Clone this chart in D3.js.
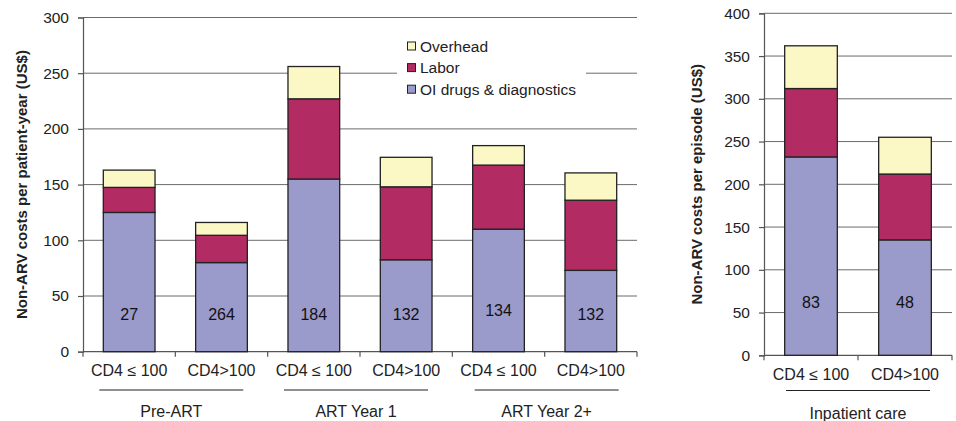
<!DOCTYPE html>
<html>
<head>
<meta charset="utf-8">
<script src="https://cdn.jsdelivr.net/npm/d3@7"></script>
<style>
  html, body { margin: 0; padding: 0; background: #fff; }
  svg { display: block; font-family: "Liberation Sans", Arial, sans-serif; }
</style>
</head>
<body>
<svg id="chart" width="956" height="421"></svg>
<script>
// Cost components (US$), stacked bottom to top
const seriesNames = ["OI drugs & diagnostics", "Labor", "Overhead"];
const seriesColors = ["#9a9acb", "#b22b63", "#fbf8c6"];

// Outpatient panel: cost per patient-year
const outCategories = ["CD4 ≤ 100", "CD4>100", "CD4 ≤ 100", "CD4>100", "CD4 ≤ 100", "CD4>100"];
const outGroups = ["Pre-ART", "ART Year 1", "ART Year 2+"];
const outOI       = [125, 80, 155, 82.5, 110, 73];
const outLabor    = [22.5, 24.5, 72, 65.5, 57.5, 63];
const outOverhead = [15.5, 11.5, 29, 26.5, 17.5, 24.5];
const outN        = ["27", "264", "184", "132", "134", "132"];
const outTicks    = [0, 50, 100, 150, 200, 250, 300];

// Inpatient panel: cost per episode
const inCategories = ["CD4 ≤ 100", "CD4>100"];
const inGroups = ["Inpatient care"];
const inOI       = [232, 135];
const inLabor    = [80, 77];
const inOverhead = [50, 43];
const inN        = ["83", "48"];
const inTicks    = [0, 50, 100, 150, 200, 250, 300, 350, 400];

const svg = d3.select("#chart");

function panel(opts) {
  const { x0, x1, y0, y1, yMax, ticks, categories, groups, oi, labor, overhead, nLabels, nLabelValue, yTitle, yTitleX } = opts;
  const g = svg.append("g");
  const idx = d3.range(categories.length);
  const x = d3.scaleBand().domain(idx).range([x0, x1]).paddingInner(0).paddingOuter(0);
  const y = d3.scaleLinear().domain([0, yMax]).range([y0, y1]);

  // gridlines
  g.append("g").selectAll("line").data(ticks.filter(t => t > 0)).join("line")
    .attr("x1", x0).attr("x2", x1)
    .attr("y1", d => y(d)).attr("y2", d => y(d))
    .attr("stroke", "#6b6b6b").attr("stroke-width", 1);

  // y axis
  const yAxis = g.append("g").attr("transform", `translate(${x0},0)`)
    .call(d3.axisLeft(y).tickValues(ticks).tickSize(5).tickPadding(9));
  yAxis.select(".domain").attr("stroke", "#555").attr("stroke-width", 1.2);
  yAxis.selectAll(".tick line").attr("stroke", "#555").attr("stroke-width", 1.2);
  yAxis.selectAll("text").attr("font-size", 15.5).attr("fill", "#222")
    .attr("font-family", "'Liberation Sans', Arial, sans-serif");

  // x axis with band boundary ticks
  g.append("line").attr("x1", x0).attr("x2", x1).attr("y1", y0).attr("y2", y0)
    .attr("stroke", "#555").attr("stroke-width", 1.2);
  const bounds = idx.map(i => x(i)).concat([x1]);
  g.append("g").selectAll("line").data(bounds).join("line")
    .attr("x1", d => d).attr("x2", d => d).attr("y1", y0).attr("y2", y0 + 5)
    .attr("stroke", "#555").attr("stroke-width", 1.2);

  // stacked bars
  const rows = idx.map(i => ({ i, oi: oi[i], labor: labor[i], overhead: overhead[i] }));
  const stack = d3.stack().keys(["oi", "labor", "overhead"])(rows);
  const bw = x.bandwidth() * 0.56;
  stack.forEach((layer, li) => {
    g.append("g").selectAll("rect").data(layer).join("rect")
      .attr("x", d => x(d.data.i) + (x.bandwidth() - bw) / 2)
      .attr("width", bw)
      .attr("y", d => y(d[1]))
      .attr("height", d => y(d[0]) - y(d[1]))
      .attr("fill", seriesColors[li])
      .attr("stroke", "#222").attr("stroke-width", 1.3);
  });

  // sample-size labels inside bars
  g.append("g").selectAll("text").data(idx).join("text")
    .attr("x", i => x(i) + x.bandwidth() / 2)
    .attr("y", i => y(nLabelValue[i]))
    .attr("text-anchor", "middle").attr("dominant-baseline", "central")
    .attr("font-size", 16).attr("fill", "#111")
    .text(i => nLabels[i]);

  // category labels
  g.append("g").selectAll("text").data(idx).join("text")
    .attr("x", i => x(i) + x.bandwidth() / 2)
    .attr("y", y0 + opts.catOffset)
    .attr("text-anchor", "middle").attr("dominant-baseline", "central")
    .attr("font-size", 16).attr("fill", "#222")
    .text(i => categories[i]);

  // group labels with rules
  groups.forEach((name, gi) => {
    const cx = (x(gi * 2) + x(gi * 2 + 1) + x.bandwidth()) / 2 + (opts.groupShift ? opts.groupShift[gi] : 0);
    g.append("line").attr("x1", cx - 72).attr("x2", cx + 72)
      .attr("y1", opts.ruleY).attr("y2", opts.ruleY)
      .attr("stroke", "#222").attr("stroke-width", 1.2);
    g.append("text").attr("x", cx).attr("y", opts.groupY)
      .attr("text-anchor", "middle").attr("dominant-baseline", "central")
      .attr("font-size", 16).attr("fill", "#222").text(name);
  });

  // y-axis title
  g.append("text")
    .attr("transform", `translate(${yTitleX},${(y0 + y1) / 2 + opts.titleShift}) rotate(-90)`)
    .attr("text-anchor", "middle").attr("dominant-baseline", "central")
    .attr("font-size", 15).attr("font-weight", "bold").attr("fill", "#222")
    .text(yTitle);

  return { g, x, y };
}

const left = panel({
  x0: 83, x1: 637, y0: 351.7, y1: 17.5, yMax: 300, ticks: outTicks,
  categories: outCategories, groups: outGroups,
  oi: outOI, labor: outLabor, overhead: outOverhead,
  nLabels: outN, nLabelValue: [33, 33, 33, 33, 37, 33],
  yTitle: "Non-ARV costs per patient-year (US$)", yTitleX: 21.5,
  catOffset: 18.5, ruleY: 390, groupY: 411.5, titleShift: 0,
  groupShift: [-4, -4, 2]
});

const right = panel({
  x0: 764, x1: 952, y0: 355.3, y1: 13.3, yMax: 400, ticks: inTicks,
  categories: inCategories, groups: inGroups,
  oi: inOI, labor: inLabor, overhead: inOverhead,
  nLabels: inN, nLabelValue: [61.5, 61.5],
  yTitle: "Non-ARV costs per episode (US$)", yTitleX: 696.5,
  catOffset: 19.5, ruleY: 390.5, groupY: 413, titleShift: 0,
  groupShift: [0]
});

// legend (white backing hides gridlines behind it)
const legend = svg.append("g");
legend.append("rect").attr("x", 397).attr("y", 32).attr("width", 189).attr("height", 70).attr("fill", "#fff");
const legendItems = [2, 1, 0];
legendItems.forEach((si, k) => {
  const cy = 46 + k * 21.6;
  legend.append("rect").attr("x", 407.5).attr("y", cy - 4).attr("width", 8).attr("height", 8)
    .attr("fill", seriesColors[si]).attr("stroke", "#222").attr("stroke-width", 1);
  legend.append("text").attr("x", 420).attr("y", cy)
    .attr("dominant-baseline", "central").attr("font-size", 15.5).attr("fill", "#222")
    .text(seriesNames[si] === "OI drugs & diagnostics" ? "OI drugs & diagnostics" : seriesNames[si]);
});
</script>
</body>
</html>
